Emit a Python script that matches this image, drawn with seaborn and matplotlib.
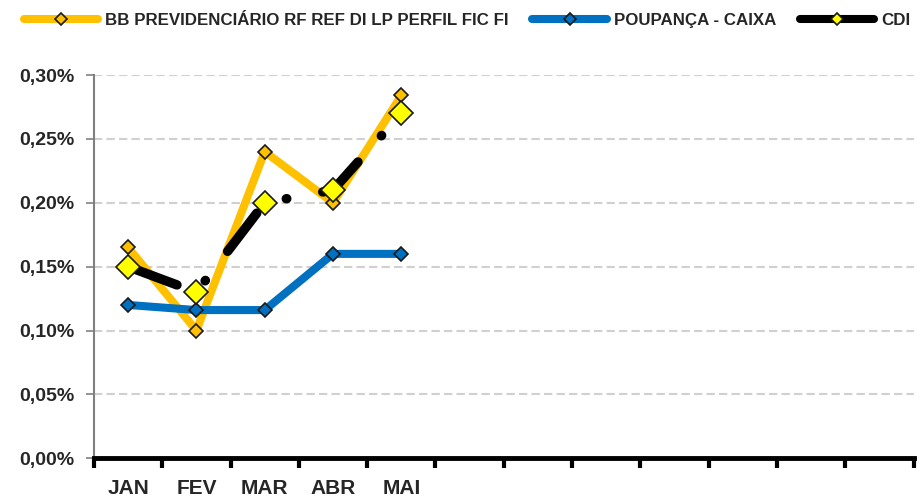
import pandas as pd
import numpy as np
import seaborn as sns
import matplotlib.pyplot as plt
from matplotlib.lines import Line2D
from matplotlib.ticker import FuncFormatter, FixedLocator

months = ['JAN', 'FEV', 'MAR', 'ABR', 'MAI']
n_slots = 12
bb_fund = [0.165, 0.100, 0.240, 0.200, 0.284]
poupanca = [0.120, 0.116, 0.116, 0.160, 0.160]
cdi = [0.150, 0.130, 0.200, 0.210, 0.270]
series_names = ['BB PREVIDENCIÁRIO RF REF DI LP PERFIL FIC FI', 'POUPANÇA - CAIXA', 'CDI']

df = pd.DataFrame({
    'pos': list(range(len(months))) * 3,
    'valor': bb_fund + poupanca + cdi,
    'serie': [series_names[0]] * 5 + [series_names[1]] * 5 + [series_names[2]] * 5,
})

sns.set_theme(style='white')
plt.rcParams['font.family'] = ['Liberation Sans', 'DejaVu Sans']
plt.rcParams['lines.scale_dashes'] = False

fig = plt.figure(figsize=(9.21, 4.97), dpi=100)
ax = fig.add_axes([0.102, 0.078, 0.890, 0.771])

ax.yaxis.grid(True, color='#d0d0d0', linestyle=(0, (6, 3)), linewidth=1.5)
ax.set_axisbelow(True)

styles = {
    series_names[0]: dict(color='#ffc000', mfc='#ffc000', ms=7, lw=5.8),
    series_names[1]: dict(color='#0070c0', mfc='#0070c0', ms=7, lw=5.8),
    series_names[2]: dict(color='black', mfc='#ffff00', ms=12, lw=6.8),
}

for name in series_names:
    st = styles[name]
    sub = df[df['serie'] == name]
    sns.lineplot(data=sub, x='pos', y='valor', ax=ax, color=st['color'], linewidth=st['lw'],
                 marker='D', markersize=st['ms'], markerfacecolor=st['mfc'],
                 markeredgecolor='#1a1a1a', markeredgewidth=1.2, legend=False)

# CDI drawn as a long dash / dot pattern
cdi_line = ax.lines[-1]
cdi_line.set_linestyle((83.5, (34.6, 25.2, 0.4, 26.3)))
cdi_line.set_dash_capstyle('round')
cdi_line.set_solid_capstyle('round')

ax.set_xlim(-0.5, n_slots - 0.5)
ax.set_ylim(0, 0.30)
ax.set_xlabel('')
ax.set_ylabel('')

ax.xaxis.set_major_locator(FixedLocator(np.arange(-0.5, n_slots, 1.0)))
ax.xaxis.set_minor_locator(FixedLocator(range(len(months))))
ax.set_xticklabels([])
ax.set_xticklabels(months, minor=True)
ax.tick_params(axis='x', which='major', direction='out', length=7, width=3, color='black', bottom=True)
ax.tick_params(axis='x', which='minor', length=0, pad=15, labelsize=15)
for lab in ax.get_xticklabels(minor=True):
    lab.set_fontweight('bold')

ax.set_yticks(np.arange(0, 0.301, 0.05))
ax.yaxis.set_major_formatter(FuncFormatter(lambda v, p: f'{v:.2f}%'.replace('.', ',')))
ax.tick_params(axis='y', direction='out', length=6, width=1.2, color='#808080', left=True, labelsize=14, pad=8)
for lab in ax.get_yticklabels():
    lab.set_fontweight('bold')

for s in ['top', 'right']:
    ax.spines[s].set_visible(False)
ax.spines['left'].set_color('#808080')
ax.spines['left'].set_linewidth(1.5)
ax.spines['bottom'].set_color('black')
ax.spines['bottom'].set_linewidth(3.5)

handles = []
for name in series_names:
    st = styles[name]
    handles.append(Line2D([0], [0], color=st['color'], linewidth=5.8, marker='D', markersize=6,
                          markerfacecolor=st['mfc'], markeredgecolor='#1a1a1a', markeredgewidth=1.2,
                          solid_capstyle='round'))
leg = fig.legend(handles, series_names, loc='center right', bbox_to_anchor=(1.005, 0.958), ncol=3,
                 frameon=False, handlelength=4.4, columnspacing=1.4, handletextpad=0.4,
                 prop={'weight': 'bold', 'size': 12.2})

fig.savefig('out.png', dpi=100)
